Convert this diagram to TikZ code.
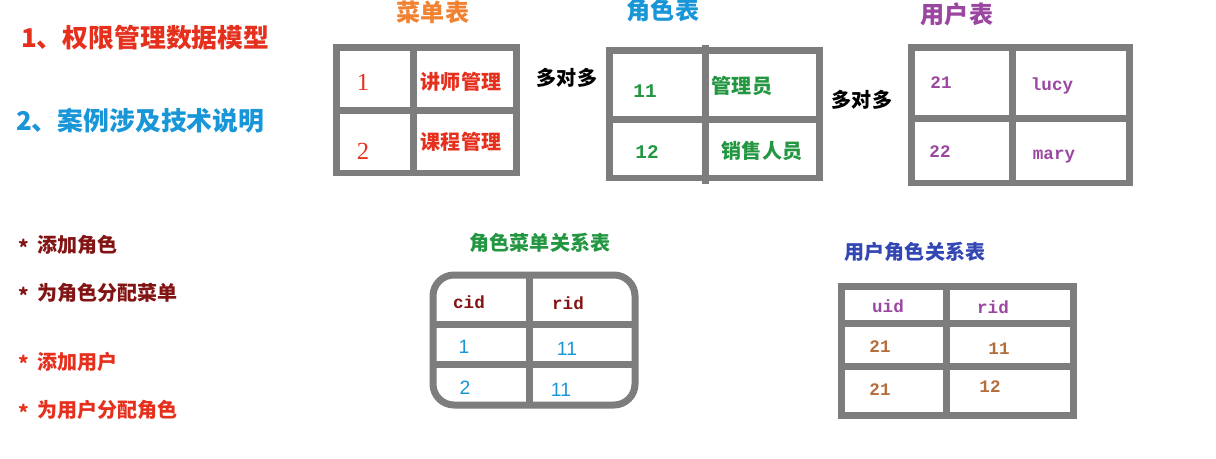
\documentclass[tikz,border=0pt]{standalone}
\usepackage{fontspec}
\newfontfamily\cnfont{Noto Sans CJK SC}
\newfontfamily\codefont{Liberation Mono}
\newfontfamily\numfont{Liberation Serif}
\newfontfamily\arialfont{Liberation Sans}
\definecolor{tgray}{RGB}{125,125,125}
\definecolor{tred}{RGB}{230,48,30}
\definecolor{tblue}{RGB}{25,150,215}
\definecolor{torange}{RGB}{240,130,50}
\definecolor{tpurple}{RGB}{155,70,160}
\definecolor{tgreen}{RGB}{35,150,65}
\definecolor{tdark}{RGB}{130,20,20}
\definecolor{tindigo}{RGB}{50,70,180}
\definecolor{tbrown}{RGB}{180,110,60}
\begin{document}
\begin{tikzpicture}[x=0.02cm,y=-0.02cm,
  tbl/.style={draw=tgray,line width=0.14cm},
  title/.style={font=\cnfont\bfseries\fontsize{14.7}{17}\selectfont,anchor=west},
  hd/.style={font=\cnfont\bfseries\fontsize{13.7}{16}\selectfont},
  sub/.style={font=\cnfont\bfseries\fontsize{11.4}{13}\selectfont},
  cell/.style={font=\cnfont\bfseries\fontsize{11.4}{13}\selectfont},
  code/.style={font=\codefont\bfseries\fontsize{10}{12}\selectfont},
  num/.style={font=\numfont\fontsize{14}{16}\selectfont},
  dig/.style={font=\arialfont\fontsize{11}{13}\selectfont}]
\useasboundingbox (0,0) rectangle (1216,459);

%titles
\node[title,text=tred](title1) at (15,38){1、权限管理数据模型};
\node[title,text=tblue](title2) at (10,121){2、案例涉及技术说明};

%table headers
\node[hd,text=torange](menuhd) at (433,12){菜单表};
\node[hd,text=tblue](rolehd) at (663,10){角色表};
\node[hd,text=tpurple](userhd) at (957,14){用户表};

%menu table
\draw[tbl](336,48) rectangle (516,173);
\draw[tbl](413,48)--(413,173);
\draw[tbl](336,111)--(516,111);
\node[num,text=tred](menu1) at (363,82){1};
\node[cell,text=tred](menu1name) at (461,82){讲师管理};
\node[num,text=tred](menu2) at (363,151){2};
\node[cell,text=tred](menu2name) at (461,142){课程管理};

\node[sub](many1) at (567,78){多对多};

%role table
\draw[tbl](609,51) rectangle (819,178);
\draw[tbl](705,45)--(705,184);
\draw[tbl](609,120)--(819,120);
\node[code,text=tgreen,font=\codefont\bfseries\fontsize{11}{13}\selectfont](role1) at (645,91){11};
\node[cell,text=tgreen](role1name) at (742,86){管理员};
\node[code,text=tgreen,font=\codefont\bfseries\fontsize{11}{13}\selectfont](role2) at (647,152){12};
\node[cell,text=tgreen](role2name) at (762,151){销售人员};

\node[sub](many2) at (862,100){多对多};

%user table
\draw[tbl](911,48) rectangle (1129,183);
\draw[tbl](1012,48)--(1012,183);
\draw[tbl](911,119)--(1129,119);
\node[code,text=tpurple](user1) at (941,83){21};
\node[code,text=tpurple](user1name) at (1052,86){lucy};
\node[code,text=tpurple](user2) at (940,152){22};
\node[code,text=tpurple](user2name) at (1054,157){mary};

%operations
\foreach \y/\t/\c [count=\k] in {245/添加角色/tdark,293/为角色分配菜单/tdark,362/添加用户/tred,410/为用户分配角色/tred}
{
	\node[sub,anchor=west,text=\c](item\k) at (12,\y){\raisebox{-0.25ex}{*}\hspace{0.45em}\t};
}

%role-menu relation
\node[sub,text=tgreen](rmhd) at (540,243){角色菜单关系表};
\draw[tbl,rounded corners=0.42cm](433,275) rectangle (635,405);
\draw[tbl](529,275)--(529,405);
\draw[tbl](433,324)--(635,324);
\draw[tbl](433,364)--(635,364);
\node[code,text=tdark](rmcid) at (469,302){cid};
\node[code,text=tdark](rmrid) at (568,303){rid};
\node[dig,text=tblue](rm1c) at (464,347){1};
\node[dig,text=tblue](rm1r) at (567,349){11};
\node[dig,text=tblue](rm2c) at (465,388){2};
\node[dig,text=tblue](rm2r) at (561,390){11};

%user-role relation
\node[sub,text=tindigo](urhd) at (915,252){用户角色关系表};
\draw[tbl](841,286) rectangle (1073,415);
\draw[tbl](946,286)--(946,415);
\draw[tbl](841,323)--(1073,323);
\draw[tbl](841,366)--(1073,366);
\node[code,text=tpurple](uruid) at (888,306){uid};
\node[code,text=tpurple](urrid) at (993,307){rid};
\node[code,text=tbrown](ur1u) at (880,347){21};
\node[code,text=tbrown](ur1r) at (999,349){11};
\node[code,text=tbrown](ur2u) at (880,390){21};
\node[code,text=tbrown](ur2r) at (990,387){12};
\end{tikzpicture}
\end{document}
